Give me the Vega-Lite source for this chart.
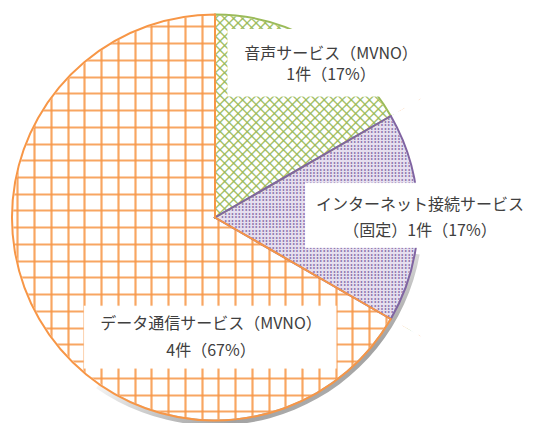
{
  "$schema": "https://vega.github.io/schema/vega-lite/v6.json",
  "width": 430,
  "height": 411,
  "autosize": {"type": "none"},
  "padding": {"left": 0, "top": 12, "right": 104, "bottom": 0},
  "background": "white",
  "config": {"view": {"stroke": null}},
  "data": {
    "values": [
      {"o": 1, "cat": "音声サービス（MVNO）", "count": 1, "label": "音声サービス（MVNO）\n1件（17%）"},
      {"o": 2, "cat": "インターネット接続サービス（固定）", "count": 1, "label": "インターネット接続サービス\n（固定）1件（17%）"},
      {"o": 3, "cat": "データ通信サービス（MVNO）", "count": 4, "label": "データ通信サービス（MVNO）\n4件（67%）"}
    ]
  },
  "layer": [
    {
      "mark": {"type": "point", "opacity": 0, "size": 0},
      "encoding": {
        "x": {"field": "count", "type": "quantitative",
              "scale": {"domain": [-12.04, 13.63], "nice": false, "zero": false},
              "axis": {"grid": true, "tickCount": 26, "labels": false, "ticks": false, "domain": false, "title": null,
                       "gridColor": "#F79646", "gridWidth": 2.2, "gridOpacity": 0.85}},
        "y": {"field": "count", "type": "quantitative",
              "scale": {"domain": [-10.687, 13.851], "nice": false, "zero": false},
              "axis": {"grid": true, "tickCount": 25, "labels": false, "ticks": false, "domain": false, "title": null,
                       "gridColor": "#F79646", "gridWidth": 2.2, "gridOpacity": 0.85}}
      }
    },
    {
      "mark": {"type": "arc", "outerRadius": 203, "strokeWidth": 0},
      "encoding": {
        "theta": {"field": "count", "type": "quantitative", "stack": true},
        "order": {"field": "o", "type": "quantitative"},
        "fill": {"condition": {"test": "datum.o === 1", "value": "white"}, "value": "rgba(255,255,255,0)"}
      }
    },
    {
      "mark": {"type": "text", "font": "DejaVu Sans Mono", "fontSize": 10.63, "lineHeight": 6.4, "fill": "#9BBB59", "stroke": "#9BBB59", "strokeWidth": 0.3,
               "radius": 0, "angle": 45, "dx": -198.03, "dy": -195.07, "align": "left", "baseline": "alphabetic"},
      "encoding": {
        "theta": {"field": "count", "type": "quantitative", "stack": true},
        "order": {"field": "o", "type": "quantitative"},
        "text": {"condition": {"test": "datum.o === 1", "value": [
          "──────────────────────────────────────────────",
          "\u200b\u00a0──────────────────────────────────────────────",
          "\u200b\u00a0\u00a0──────────────────────────────────────────────",
          "\u200b\u00a0\u00a0\u00a0──────────────────────────────────────────────",
          "\u200b\u00a0\u00a0\u00a0\u00a0──────────────────────────────────────────────",
          "\u200b\u00a0\u00a0\u00a0\u00a0\u00a0──────────────────────────────────────────────",
          "\u200b\u00a0\u00a0\u00a0\u00a0\u00a0\u00a0──────────────────────────────────────────────",
          "\u200b\u00a0\u00a0\u00a0\u00a0\u00a0\u00a0\u00a0──────────────────────────────────────────────",
          "\u200b\u00a0\u00a0\u00a0\u00a0\u00a0\u00a0\u00a0\u00a0──────────────────────────────────────────────",
          "\u200b\u00a0\u00a0\u00a0\u00a0\u00a0\u00a0\u00a0\u00a0\u00a0──────────────────────────────────────────────",
          "\u200b\u00a0\u00a0\u00a0\u00a0\u00a0\u00a0\u00a0\u00a0\u00a0\u00a0──────────────────────────────────────────────",
          "\u200b\u00a0\u00a0\u00a0\u00a0\u00a0\u00a0\u00a0\u00a0\u00a0\u00a0\u00a0──────────────────────────────────────────────",
          "\u200b\u00a0\u00a0\u00a0\u00a0\u00a0\u00a0\u00a0\u00a0\u00a0\u00a0\u00a0\u00a0──────────────────────────────────────────────",
          "\u200b\u00a0\u00a0\u00a0\u00a0\u00a0\u00a0\u00a0\u00a0\u00a0\u00a0\u00a0\u00a0\u00a0──────────────────────────────────────────────",
          "\u200b\u00a0\u00a0\u00a0\u00a0\u00a0\u00a0\u00a0\u00a0\u00a0\u00a0\u00a0\u00a0\u00a0\u00a0──────────────────────────────────────────────",
          "\u200b\u00a0\u00a0\u00a0\u00a0\u00a0\u00a0\u00a0\u00a0\u00a0\u00a0\u00a0\u00a0\u00a0\u00a0\u00a0──────────────────────────────────────────────",
          "\u200b\u00a0\u00a0\u00a0\u00a0\u00a0\u00a0\u00a0\u00a0\u00a0\u00a0\u00a0\u00a0\u00a0\u00a0\u00a0\u00a0──────────────────────────────────────────────",
          "\u200b\u00a0\u00a0\u00a0\u00a0\u00a0\u00a0\u00a0\u00a0\u00a0\u00a0\u00a0\u00a0\u00a0\u00a0\u00a0\u00a0\u00a0──────────────────────────────────────────────",
          "\u200b\u00a0\u00a0\u00a0\u00a0\u00a0\u00a0\u00a0\u00a0\u00a0\u00a0\u00a0\u00a0\u00a0\u00a0\u00a0\u00a0\u00a0\u00a0──────────────────────────────────────────────",
          "\u200b\u00a0\u00a0\u00a0\u00a0\u00a0\u00a0\u00a0\u00a0\u00a0\u00a0\u00a0\u00a0\u00a0\u00a0\u00a0\u00a0\u00a0\u00a0\u00a0──────────────────────────────────────────────",
          "\u200b\u00a0\u00a0\u00a0\u00a0\u00a0\u00a0\u00a0\u00a0\u00a0\u00a0\u00a0\u00a0\u00a0\u00a0\u00a0\u00a0\u00a0\u00a0\u00a0\u00a0──────────────────────────────────────────────",
          "\u200b\u00a0\u00a0\u00a0\u00a0\u00a0\u00a0\u00a0\u00a0\u00a0\u00a0\u00a0\u00a0\u00a0\u00a0\u00a0\u00a0\u00a0\u00a0\u00a0\u00a0\u00a0──────────────────────────────────────────────",
          "\u200b\u00a0\u00a0\u00a0\u00a0\u00a0\u00a0\u00a0\u00a0\u00a0\u00a0\u00a0\u00a0\u00a0\u00a0\u00a0\u00a0\u00a0\u00a0\u00a0\u00a0\u00a0\u00a0──────────────────────────────────────────────",
          "\u200b\u00a0\u00a0\u00a0\u00a0\u00a0\u00a0\u00a0\u00a0\u00a0\u00a0\u00a0\u00a0\u00a0\u00a0\u00a0\u00a0\u00a0\u00a0\u00a0\u00a0\u00a0\u00a0\u00a0────────────────────────",
          "\u200b\u00a0\u00a0\u00a0\u00a0\u00a0\u00a0\u00a0\u00a0\u00a0\u00a0\u00a0\u00a0\u00a0\u00a0\u00a0\u00a0\u00a0\u00a0\u00a0\u00a0\u00a0\u00a0\u00a0\u00a0─────────────────────",
          "\u200b\u00a0\u00a0\u00a0\u00a0\u00a0\u00a0\u00a0\u00a0\u00a0\u00a0\u00a0\u00a0\u00a0\u00a0\u00a0\u00a0\u00a0\u00a0\u00a0\u00a0\u00a0\u00a0\u00a0\u00a0\u00a0──────────────────",
          "\u200b\u00a0\u00a0\u00a0\u00a0\u00a0\u00a0\u00a0\u00a0\u00a0\u00a0\u00a0\u00a0\u00a0\u00a0\u00a0\u00a0\u00a0\u00a0\u00a0\u00a0\u00a0\u00a0\u00a0\u00a0\u00a0\u00a0───────────────",
          "\u200b\u00a0\u00a0\u00a0\u00a0\u00a0\u00a0\u00a0\u00a0\u00a0\u00a0\u00a0\u00a0\u00a0\u00a0\u00a0\u00a0\u00a0\u00a0\u00a0\u00a0\u00a0\u00a0\u00a0\u00a0\u00a0\u00a0\u00a0────────────",
          "\u200b\u00a0\u00a0\u00a0\u00a0\u00a0\u00a0\u00a0\u00a0\u00a0\u00a0\u00a0\u00a0\u00a0\u00a0\u00a0\u00a0\u00a0\u00a0\u00a0\u00a0\u00a0\u00a0\u00a0\u00a0\u00a0\u00a0\u00a0\u00a0─────────",
          "\u200b\u00a0\u00a0\u00a0\u00a0\u00a0\u00a0\u00a0\u00a0\u00a0\u00a0\u00a0\u00a0\u00a0\u00a0\u00a0\u00a0\u00a0\u00a0\u00a0\u00a0\u00a0\u00a0\u00a0\u00a0\u00a0\u00a0\u00a0\u00a0\u00a0──────",
          "\u200b\u00a0\u00a0\u00a0\u00a0\u00a0\u00a0\u00a0\u00a0\u00a0\u00a0\u00a0\u00a0\u00a0\u00a0\u00a0\u00a0\u00a0\u00a0\u00a0\u00a0\u00a0\u00a0\u00a0\u00a0\u00a0\u00a0\u00a0\u00a0\u00a0\u00a0───"
        ]}, "value": ""}
      }
    },
    {
      "mark": {"type": "text", "font": "DejaVu Sans Mono", "fontSize": 10.63, "lineHeight": 6.4, "fill": "#9BBB59", "stroke": "#9BBB59", "strokeWidth": 0.3,
               "radius": 0, "angle": 315, "dx": 0.36, "dy": -136.75, "align": "left", "baseline": "alphabetic"},
      "encoding": {
        "theta": {"field": "count", "type": "quantitative", "stack": true},
        "order": {"field": "o", "type": "quantitative"},
        "text": {"condition": {"test": "datum.o === 1", "value": [
          "\u200b\u00a0\u00a0\u00a0\u00a0\u00a0\u00a0\u00a0\u00a0\u00a0\u00a0\u00a0\u00a0\u00a0\u00a0\u00a0\u00a0\u00a0\u00a0\u00a0\u00a0\u00a0\u00a0────────────────────────────────────────",
          "\u200b\u00a0\u00a0\u00a0\u00a0\u00a0\u00a0\u00a0\u00a0\u00a0\u00a0\u00a0\u00a0\u00a0\u00a0\u00a0\u00a0\u00a0\u00a0\u00a0\u00a0\u00a0────────────────────────────────────────",
          "\u200b\u00a0\u00a0\u00a0\u00a0\u00a0\u00a0\u00a0\u00a0\u00a0\u00a0\u00a0\u00a0\u00a0\u00a0\u00a0\u00a0\u00a0\u00a0\u00a0\u00a0────────────────────────────────────────",
          "\u200b\u00a0\u00a0\u00a0\u00a0\u00a0\u00a0\u00a0\u00a0\u00a0\u00a0\u00a0\u00a0\u00a0\u00a0\u00a0\u00a0\u00a0\u00a0\u00a0────────────────────────────────────────",
          "\u200b\u00a0\u00a0\u00a0\u00a0\u00a0\u00a0\u00a0\u00a0\u00a0\u00a0\u00a0\u00a0\u00a0\u00a0\u00a0\u00a0\u00a0\u00a0────────────────────────────────────────",
          "\u200b\u00a0\u00a0\u00a0\u00a0\u00a0\u00a0\u00a0\u00a0\u00a0\u00a0\u00a0\u00a0\u00a0\u00a0\u00a0\u00a0\u00a0────────────────────────────────────────",
          "\u200b\u00a0\u00a0\u00a0\u00a0\u00a0\u00a0\u00a0\u00a0\u00a0\u00a0\u00a0\u00a0\u00a0\u00a0\u00a0\u00a0────────────────────────────────────────",
          "\u200b\u00a0\u00a0\u00a0\u00a0\u00a0\u00a0\u00a0\u00a0\u00a0\u00a0\u00a0\u00a0\u00a0\u00a0\u00a0────────────────────────────────────────",
          "\u200b\u00a0\u00a0\u00a0\u00a0\u00a0\u00a0\u00a0\u00a0\u00a0\u00a0\u00a0\u00a0\u00a0\u00a0────────────────────────────────────────",
          "\u200b\u00a0\u00a0\u00a0\u00a0\u00a0\u00a0\u00a0\u00a0\u00a0\u00a0\u00a0\u00a0\u00a0────────────────────────────────────────",
          "\u200b\u00a0\u00a0\u00a0\u00a0\u00a0\u00a0\u00a0\u00a0\u00a0\u00a0\u00a0\u00a0────────────────────────────────────────",
          "\u200b\u00a0\u00a0\u00a0\u00a0\u00a0\u00a0\u00a0\u00a0\u00a0\u00a0\u00a0────────────────────────────────────────",
          "\u200b\u00a0\u00a0\u00a0\u00a0\u00a0\u00a0\u00a0\u00a0\u00a0\u00a0────────────────────────────────────────",
          "\u200b\u00a0\u00a0\u00a0\u00a0\u00a0\u00a0\u00a0\u00a0\u00a0────────────────────────────────────────",
          "\u200b\u00a0\u00a0\u00a0\u00a0\u00a0\u00a0\u00a0\u00a0────────────────────────────────────────",
          "\u200b\u00a0\u00a0\u00a0\u00a0\u00a0\u00a0\u00a0────────────────────────────────────────",
          "\u200b\u00a0\u00a0\u00a0\u00a0\u00a0\u00a0────────────────────────────────────────",
          "\u200b\u00a0\u00a0\u00a0\u00a0\u00a0────────────────────────────────────────",
          "\u200b\u00a0\u00a0\u00a0\u00a0────────────────────────────────────────",
          "\u200b\u00a0\u00a0\u00a0────────────────────────────────────────",
          "\u200b\u00a0\u00a0────────────────────────────────────────",
          "\u200b\u00a0────────────────────────────────────────",
          "────────────────────────────────────────",
          "\u200b\u00a0────────────────────────────────────────",
          "\u200b\u00a0\u00a0────────────────────────────────────────",
          "\u200b\u00a0\u00a0\u00a0────────────────────────────────────────",
          "\u200b\u00a0\u00a0\u00a0\u00a0────────────────────────────────────────",
          "\u200b\u00a0\u00a0\u00a0\u00a0\u00a0────────────────────────────────────────",
          "\u200b\u00a0\u00a0\u00a0\u00a0\u00a0\u00a0────────────────────────────────────────",
          "\u200b\u00a0\u00a0\u00a0\u00a0\u00a0\u00a0\u00a0────────────────────────────────────────",
          "\u200b\u00a0\u00a0\u00a0\u00a0\u00a0\u00a0\u00a0\u00a0────────────────────────────────────────"
        ]}, "value": ""}
      }
    },
    {
      "mark": {"type": "arc", "outerRadius": 203, "strokeWidth": 0},
      "encoding": {
        "theta": {"field": "count", "type": "quantitative", "stack": true},
        "order": {"field": "o", "type": "quantitative"},
        "fill": {"condition": {"test": "datum.o === 2", "value": "#e6dfef"}, "value": "rgba(255,255,255,0)"}
      }
    },
    {
      "mark": {"type": "text", "font": "DejaVu Sans Mono", "fontSize": 5.65, "lineHeight": 3.4, "fill": "#8064A2", "stroke": "#8064A2", "strokeWidth": 0.7,
               "radius": 206, "dx": 0, "dy": -96.9, "align": "right", "baseline": "alphabetic"},
      "encoding": {
        "theta": {"field": "count", "type": "quantitative", "stack": true},
        "order": {"field": "o", "type": "quantitative"},
        "text": {"condition": {"test": "datum.o === 2", "value": [
          "··········",
          "············",
          "·············",
          "···············",
          "·················",
          "···················",
          "····················",
          "······················",
          "························",
          "·························",
          "···························",
          "·····························",
          "·······························",
          "································",
          "··································",
          "····································",
          "······································",
          "·······································",
          "·········································",
          "···········································",
          "·············································",
          "··············································",
          "················································",
          "··················································",
          "···················································",
          "·····················································",
          "·······················································",
          "·························································",
          "··························································",
          "···························································",
          "··························································",
          "·························································",
          "·······················································",
          "·····················································",
          "···················································",
          "··················································",
          "················································",
          "··············································",
          "·············································",
          "···········································",
          "·········································",
          "·······································",
          "······································",
          "····································",
          "··································",
          "································",
          "·······························",
          "·····························",
          "···························",
          "·························",
          "························",
          "······················",
          "····················",
          "···················",
          "·················",
          "···············",
          "·············",
          "············",
          "··········"
        ]}, "value": ""}
      }
    },
    {
      "mark": {"type": "arc", "innerRadius": 202, "outerRadius": 420, "fill": "white", "strokeWidth": 0},
      "encoding": {
        "theta": {"field": "count", "type": "quantitative", "stack": true},
        "order": {"field": "o", "type": "quantitative"}
      }
    },
    {
      "data": {"values": [{}]},
      "mark": {"type": "arc", "theta": 1.75, "theta2": 3.75, "innerRadius": 202, "outerRadius": 208,
               "fill": {"gradient": "linear", "x1": 0, "y1": 0, "x2": 1, "y2": 1,
                        "stops": [{"offset": 0.35, "color": "rgba(100,100,100,0)"},
                                  {"offset": 0.7, "color": "rgba(100,100,100,0.6)"},
                                  {"offset": 1, "color": "rgba(100,100,100,0.35)"}]}},
      "encoding": {}
    },
    {
      "mark": {"type": "arc", "outerRadius": 203, "strokeWidth": 2, "fillOpacity": 0},
      "encoding": {
        "theta": {"field": "count", "type": "quantitative", "stack": true},
        "order": {"field": "o", "type": "quantitative"},
        "stroke": {"field": "cat", "type": "nominal",
                   "scale": {"domain": ["音声サービス（MVNO）", "インターネット接続サービス（固定）", "データ通信サービス（MVNO）"],
                             "range": ["#9BBB59", "#8064A2", "#F79646"]},
                   "legend": null}
      }
    },
    {
      "mark": {"type": "text", "font": "DejaVu Sans Mono", "fontSize": 56, "fill": "white", "stroke": "white", "strokeWidth": 1,
               "radius": 179, "dx": 25.5, "dy": 2.6, "align": "center", "baseline": "middle"},
      "encoding": {
        "theta": {"field": "count", "type": "quantitative", "stack": true},
        "order": {"field": "o", "type": "quantitative"},
        "text": {"condition": {"test": "datum.o === 1", "value": "██████"}, "value": ""}
      }
    },
    {
      "mark": {"type": "text", "font": "DejaVu Sans Mono", "fontSize": 54, "fill": "white", "stroke": "white", "strokeWidth": 1,
               "radius": 205, "dx": 0, "dy": 0, "align": "center", "baseline": "middle"},
      "encoding": {
        "theta": {"field": "count", "type": "quantitative", "stack": true},
        "order": {"field": "o", "type": "quantitative"},
        "text": {"condition": {"test": "datum.o === 2", "value": "███████"}, "value": ""}
      }
    },
    {
      "mark": {"type": "text", "font": "DejaVu Sans Mono", "fontSize": 52, "fill": "white", "stroke": "white", "strokeWidth": 1,
               "radius": 120, "dx": 98.9, "dy": 61.4, "align": "center", "baseline": "middle"},
      "encoding": {
        "theta": {"field": "count", "type": "quantitative", "stack": true},
        "order": {"field": "o", "type": "quantitative"},
        "text": {"condition": {"test": "datum.o === 3", "value": "████████"}, "value": ""}
      }
    },
    {
      "mark": {"type": "text", "font": "Noto Sans CJK JP", "fontSize": 16, "fill": "#404040",
               "radius": 179, "dx": 26.5, "dy": -8.3, "align": "center", "baseline": "middle", "lineBreak": "\n", "lineHeight": 21},
      "encoding": {
        "theta": {"field": "count", "type": "quantitative", "stack": true},
        "order": {"field": "o", "type": "quantitative"},
        "text": {"condition": {"test": "datum.o === 1", "field": "label"}, "value": ""}
      }
    },
    {
      "mark": {"type": "text", "font": "Noto Sans CJK JP", "fontSize": 16, "fill": "#404040",
               "radius": 205, "dx": 0, "dy": -12.2, "align": "center", "baseline": "middle", "lineBreak": "\n", "lineHeight": 25.5},
      "encoding": {
        "theta": {"field": "count", "type": "quantitative", "stack": true},
        "order": {"field": "o", "type": "quantitative"},
        "text": {"condition": {"test": "datum.o === 2", "field": "label"}, "value": ""}
      }
    },
    {
      "mark": {"type": "text", "font": "Noto Sans CJK JP", "fontSize": 16, "fill": "#404040",
               "radius": 120, "dx": 99.9, "dy": 46.7, "align": "center", "baseline": "middle", "lineBreak": "\n", "lineHeight": 26.5},
      "encoding": {
        "theta": {"field": "count", "type": "quantitative", "stack": true},
        "order": {"field": "o", "type": "quantitative"},
        "text": {"condition": {"test": "datum.o === 3", "field": "label"}, "value": ""}
      }
    }
  ]
}
